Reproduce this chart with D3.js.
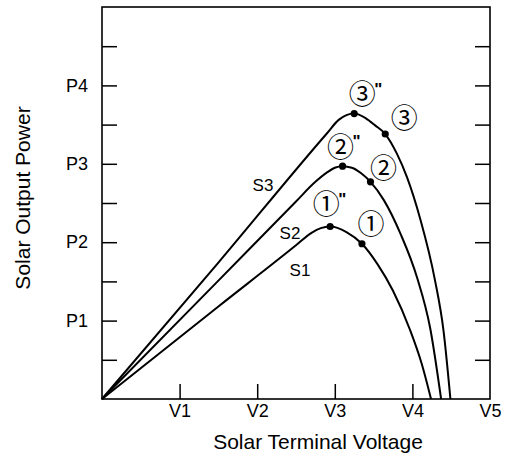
<!DOCTYPE html>
<html lang="en">
<head>
  <meta charset="UTF-8">
  <script src="https://d3js.org/d3.v7.min.js"></script>
  <title>Solar P-V</title>
  <style>body{margin:0;background:#fff}</style>
</head>
<body>
  <svg width="507" height="461"></svg>
  <script>
    // data (voltage / power in tick units)
    var voltLabels = ["V1", "V2", "V3", "V4", "V5"];
    var powerLabels = ["P1", "P2", "P3", "P4"];

    var s1V = [0, 1.5, 2.5, 2.7, 2.82, 2.94, 3.15, 3.35, 3.55, 3.75, 3.97, 4.12, 4.24];
    var s1P = [0, 1.18, 1.96, 2.12, 2.18, 2.20, 2.13, 1.98, 1.72, 1.38, 0.88, 0.45, 0];

    var s2V = [0, 1.5, 2.5, 2.75, 2.9, 3.0, 3.10, 3.22, 3.34, 3.46, 3.63, 3.85, 4.06, 4.23, 4.37];
    var s2P = [0, 1.51, 2.52, 2.77, 2.89, 2.95, 2.97, 2.95, 2.88, 2.77, 2.54, 2.10, 1.55, 0.90, 0];

    var s3V = [0, 1.5, 2.9, 3.05, 3.15, 3.25, 3.40, 3.52, 3.65, 3.80, 3.93, 4.10, 4.29, 4.40, 4.49];
    var s3P = [0, 1.74, 3.39, 3.56, 3.62, 3.64, 3.58, 3.49, 3.38, 3.13, 2.83, 2.30, 1.52, 0.88, 0];

    // marked operating points
    var peakV = [2.94, 3.10, 3.25];
    var peakP = [2.20, 2.97, 3.64];
    var opV = [3.35, 3.46, 3.65];
    var opP = [1.98, 2.77, 3.38];
    var opNames = ["\u2460", "\u2461", "\u2462"];
    var seriesNames = ["S1", "S2", "S3"];

    var svg = d3.select("svg");
    var font = "'Liberation Sans', Arial, sans-serif";
    var m = {left: 102, right: 490, top: 7, bottom: 399};

    var x = d3.scaleLinear().domain([0, 5]).range([m.left, m.right]);
    var y = d3.scaleLinear().domain([0, 5]).range([m.bottom, m.top]);

    // frame
    svg.append("rect")
      .attr("x", m.left).attr("y", m.top)
      .attr("width", m.right - m.left).attr("height", m.bottom - m.top)
      .attr("fill", "none").attr("stroke", "#000").attr("stroke-width", 1.6);

    // x axis (ticks inward)
    var xAxis = d3.axisBottom(x)
      .tickValues([1, 2, 3, 4, 5])
      .tickSizeInner(-15).tickSizeOuter(0).tickPadding(5)
      .tickFormat(function(d){ return voltLabels[d - 1] });
    var gx = svg.append("g").attr("transform", "translate(0," + m.bottom + ")").call(xAxis);
    gx.select(".domain").remove();
    gx.selectAll(".tick line").attr("stroke-width", 1.5)
      .filter(function(d){ return d == 5 }).remove();
    gx.selectAll("text").attr("font-family", font).attr("font-size", 18).attr("fill", "#000");

    // y axis left + right (half-unit ticks, labels on integers)
    var yTicks = d3.range(0.5, 5, 0.5);
    var yAxis = d3.axisLeft(y)
      .tickValues(yTicks)
      .tickSizeInner(-15).tickSizeOuter(0).tickPadding(14)
      .tickFormat(function(d){ return d % 1 == 0 ? powerLabels[d - 1] : "" });
    var gy = svg.append("g").attr("transform", "translate(" + m.left + ",0)").call(yAxis);
    gy.select(".domain").remove();
    gy.selectAll(".tick line").attr("stroke-width", 1.5);
    gy.selectAll("text").attr("font-family", font).attr("font-size", 18).attr("fill", "#000");

    var yAxisR = d3.axisRight(y).tickValues(yTicks).tickSizeInner(-15).tickSizeOuter(0).tickFormat("");
    var gyr = svg.append("g").attr("transform", "translate(" + m.right + ",0)").call(yAxisR);
    gyr.select(".domain").remove();
    gyr.selectAll(".tick line").attr("stroke-width", 1.5);

    // curves
    var line = d3.line()
      .x(function(d){ return x(d[0]) })
      .y(function(d){ return y(d[1]) })
      .curve(d3.curveMonotoneX);
    var series = [d3.zip(s1V, s1P), d3.zip(s2V, s2P), d3.zip(s3V, s3P)];
    svg.selectAll(".curve").data(series).enter().append("path")
      .attr("class", "curve")
      .attr("d", line)
      .attr("fill", "none").attr("stroke", "#000").attr("stroke-width", 2);

    // dots
    var dots = d3.zip(peakV, peakP).concat(d3.zip(opV, opP));
    svg.selectAll(".dot").data(dots).enter().append("circle")
      .attr("cx", function(d){ return x(d[0]) })
      .attr("cy", function(d){ return y(d[1]) })
      .attr("r", 3.6).attr("fill", "#000");

    // circled labels
    var peakOff = [[-4, -24], [-2, -21], [8, -21]];
    var opOff = [[9, -21], [13, -15], [19, -18]];
    var circFont = "'Noto Sans CJK JP', 'DejaVu Sans', sans-serif";
    peakV.forEach(function(v, i){
      svg.append("text")
        .attr("x", x(v) + peakOff[i][0]).attr("y", y(peakP[i]) + peakOff[i][1])
        .attr("text-anchor", "middle").attr("dominant-baseline", "central")
        .attr("font-family", circFont).attr("font-size", 27).text(opNames[i]);
      svg.append("text")
        .attr("x", x(v) + peakOff[i][0] + 12).attr("y", y(peakP[i]) + peakOff[i][1] + 2)
        .attr("font-family", font).attr("font-weight", "bold").attr("font-size", 17).text("\"");
    });
    opV.forEach(function(v, i){
      svg.append("text")
        .attr("x", x(v) + opOff[i][0]).attr("y", y(opP[i]) + opOff[i][1])
        .attr("text-anchor", "middle").attr("dominant-baseline", "central")
        .attr("font-family", circFont).attr("font-size", 27).text(opNames[i]);
    });

    // series names
    var namePos = [[300, 270], [290, 233], [263, 185]];
    namePos.forEach(function(p, i){
      svg.append("text").attr("x", p[0]).attr("y", p[1])
        .attr("text-anchor", "middle").attr("dominant-baseline", "central")
        .attr("font-family", font).attr("font-size", 17).text(seriesNames[i]);
    });

    // axis titles
    svg.append("text").attr("x", 318).attr("y", 449)
      .attr("text-anchor", "middle").attr("font-family", font).attr("font-size", 21)
      .text("Solar Terminal Voltage");
    svg.append("text").attr("transform", "translate(30,198) rotate(-90)")
      .attr("text-anchor", "middle").attr("font-family", font).attr("font-size", 21)
      .text("Solar Output Power");
  </script>
</body>
</html>
